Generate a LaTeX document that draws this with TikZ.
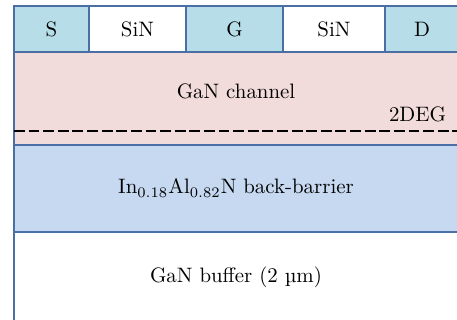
\documentclass[tikz,border=0pt]{standalone}
\usepackage{fontspec}
\definecolor{contact}{HTML}{B7DEE8}
\definecolor{chan}{HTML}{F2DCDB}
\definecolor{barrier}{HTML}{C6D9F1}
\definecolor{edge}{HTML}{4A6FA5}
\tikzset{
  layer/.style={draw=edge, line width=0.8pt},
  lbl/.style={font=\normalsize, inner sep=0pt, anchor=center},
}
\begin{document}
\begin{tikzpicture}[x=0.479pt, y=-0.479pt]
\useasboundingbox (0,0) rectangle (457,320);
\clip (0,0) rectangle (457,320);
% layers
\path[layer, fill=white] (14,232) rectangle (462,340);
\path[layer, fill=barrier] (14,145) rectangle (462,232);
\path[layer, fill=chan] (14,52) rectangle (462,145);
% top row
\path[layer, fill=contact] (14,6) rectangle (89,52);
\path[layer, fill=white] (89,6) rectangle (186,52);
\path[layer, fill=contact] (186,6) rectangle (283,52);
\path[layer, fill=white] (283,6) rectangle (385,52);
\path[layer, fill=contact] (385,6) rectangle (462,52);
% 2DEG line
\coordinate (dl) at (14,131);
\coordinate (dr) at (462,131);
\draw[line width=0.7pt, dash pattern=on 5.2pt off 1.8pt] (dl) -- (dr);
% labels
\node[lbl] (s) at (51.5,29) {S};
\node[lbl] (sin1) at (137.5,29) {SiN};
\node[lbl] (g) at (234.5,29) {G};
\node[lbl] (sin2) at (334,29) {SiN};
\node[lbl] (d) at (422,29) {D};
\node[lbl] (ch) at (236,91) {GaN channel};
\node[lbl] (deg) at (417.5,114) {2DEG};
\node[lbl] (bb) at (236,188) {In$_{0.18}$Al$_{0.82}$N back-barrier};
\node[lbl] (buf) at (236,277) {GaN buffer (2 \textmu m)};
\end{tikzpicture}
\end{document}
